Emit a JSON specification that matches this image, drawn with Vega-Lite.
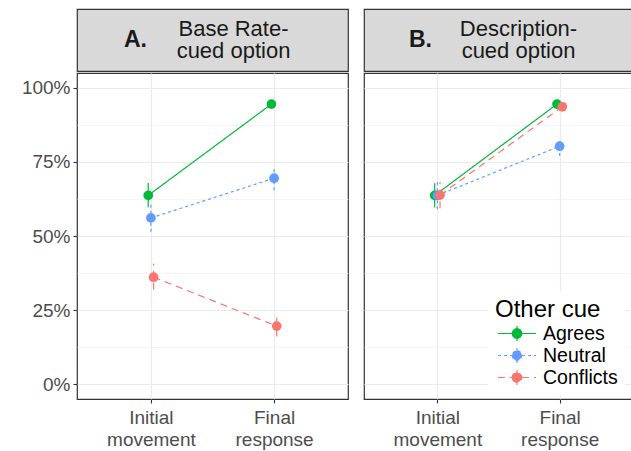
{
  "$schema": "https://vega.github.io/schema/vega-lite/v6.json",
  "background": "white",
  "padding": {"left": 20, "top": 8, "right": 0, "bottom": 0},
  "config": {"font": "Liberation Sans", "concat": {"spacing": 0}},
  "datasets": {
    "obs": [
      {"panel": "A", "stage": "Initial movement", "cue": "Agrees", "mean": 0.637, "lo": 0.597, "hi": 0.679},
      {"panel": "A", "stage": "Final response", "cue": "Agrees", "mean": 0.945, "lo": 0.933, "hi": 0.957},
      {"panel": "A", "stage": "Initial movement", "cue": "Neutral", "mean": 0.561, "lo": 0.514, "hi": 0.607},
      {"panel": "A", "stage": "Final response", "cue": "Neutral", "mean": 0.695, "lo": 0.654, "hi": 0.733},
      {"panel": "A", "stage": "Initial movement", "cue": "Conflicts", "mean": 0.361, "lo": 0.319, "hi": 0.406},
      {"panel": "A", "stage": "Final response", "cue": "Conflicts", "mean": 0.196, "lo": 0.161, "hi": 0.226},
      {"panel": "B", "stage": "Initial movement", "cue": "Agrees", "mean": 0.637, "lo": 0.596, "hi": 0.678},
      {"panel": "B", "stage": "Final response", "cue": "Agrees", "mean": 0.945, "lo": 0.933, "hi": 0.957},
      {"panel": "B", "stage": "Initial movement", "cue": "Neutral", "mean": 0.637, "lo": 0.59, "hi": 0.684},
      {"panel": "B", "stage": "Final response", "cue": "Neutral", "mean": 0.803, "lo": 0.77, "hi": 0.83},
      {"panel": "B", "stage": "Initial movement", "cue": "Conflicts", "mean": 0.638, "lo": 0.594, "hi": 0.682},
      {"panel": "B", "stage": "Final response", "cue": "Conflicts", "mean": 0.936, "lo": 0.922, "hi": 0.95}
    ],
    "strips": [
      {"panel": "A", "letter": "A.", "title": "Base Rate-\ncued option"},
      {"panel": "B", "letter": "B.", "title": "Description-\ncued option"}
    ]
  },
  "hconcat": [
    {
      "spacing": 0,
      "vconcat": [
        {
          "width": 271, "height": 62,
          "data": {"name": "strips"},
          "transform": [{"filter": "datum.panel == 'A'"}],
          "view": {"fill": "#D9D9D9", "stroke": "#333333", "strokeWidth": 1.2},
          "layer": [
            {"mark": {"type": "text", "fontWeight": "bold", "fontSize": 23, "color": "#1A1A1A", "dx": -77, "baseline": "middle"}, "encoding": {"text": {"field": "letter"}}},
            {"mark": {"type": "text", "fontSize": 22, "color": "#1A1A1A", "dx": 21, "dy": -11, "baseline": "middle", "lineBreak": "\n", "lineHeight": 22}, "encoding": {"text": {"field": "title"}}}
          ]
        },
        {
          "width": 271, "height": 326,
          "data": {"name": "obs"},
          "transform": [{"filter": "datum.panel == 'A'"}],
          "view": {"fill": "white", "stroke": "#333333", "strokeWidth": 1.2},
          "encoding": {
            "x": {"field": "stage", "type": "nominal", "sort": ["Initial movement", "Final response"], "scale": {"type": "point", "padding": 0.6},
              "axis": {"title": null, "labelAngle": 0, "labelExpr": "split(datum.label, ' ')", "labelFontSize": 19, "labelColor": "#4D4D4D", "labelLineHeight": 22, "labelPadding": 5, "tickColor": "#333333", "tickSize": 4, "tickWidth": 1.1, "domain": false, "grid": true, "gridColor": "#EBEBEB", "gridWidth": 1.2}},
            "xOffset": {"field": "cue", "type": "nominal", "sort": ["Agrees", "Neutral", "Conflicts"], "scale": {"type": "point", "range": [-4, 4]}},
            "color": {"field": "cue", "type": "nominal", "sort": ["Agrees", "Neutral", "Conflicts"], "scale": {"domain": ["Agrees", "Neutral", "Conflicts"], "range": ["#00BA38", "#619CFF", "#F8766D"]},
              "legend": {"title": "Other cue", "orient": "none", "legendX": 411, "legendY": 282, "direction": "vertical", "titleFontSize": 24, "titleFontWeight": "normal", "titleColor": "black", "titlePadding": 1, "labelFontSize": 19.5, "labelColor": "black", "fillColor": "white", "padding": 7, "symbolType": "M-2,0H2M0,-0.8V0.8M-0.5,0A0.5,0.5 0 1,0 0.5,0A0.5,0.5 0 1,0 -0.5,0", "symbolSize": 361, "symbolStrokeWidth": 1.2, "symbolOffset": 11.5, "labelOffset": 15.5, "rowPadding": 1, "symbolOpacity": 1,
                "encode": {"symbols": {"update": {"fill": {"scale": "color", "field": "value"}}}}}}
          },
          "layer": [
            {"mark": {"type": "rule", "strokeWidth": 1.2},
              "encoding": {
                "y": {"field": "lo", "type": "quantitative", "scale": {"domain": [-0.05, 1.05], "nice": false, "zero": false},
                  "axis": {"orient": "left", "values": [0.125, 0.375, 0.625, 0.875], "labels": false, "ticks": false, "domain": false, "title": null, "grid": true, "gridColor": "#F0F0F0", "gridWidth": 0.7}},
                "y2": {"field": "hi"},
                "strokeDash": {"field": "cue", "type": "nominal", "scale": {"domain": ["Agrees", "Neutral", "Conflicts"], "range": [[1, 0], [3, 3], [7, 5]]},
                  "legend": {"title": "Other cue", "orient": "none", "legendX": 411, "legendY": 282, "direction": "vertical", "titleFontSize": 24, "titleFontWeight": "normal", "titleColor": "black", "titlePadding": 1, "labelFontSize": 19.5, "labelColor": "black", "fillColor": "white", "padding": 7, "symbolType": "M-2,0H2M0,-0.8V0.8M-0.5,0A0.5,0.5 0 1,0 0.5,0A0.5,0.5 0 1,0 -0.5,0", "symbolSize": 361, "symbolStrokeWidth": 1.2, "symbolOffset": 11.5, "labelOffset": 15.5, "rowPadding": 1, "symbolOpacity": 1}}
              }},
            {"mark": {"type": "line", "strokeWidth": 1.2},
              "encoding": {
                "y": {"field": "mean", "type": "quantitative",
                  "axis": {"orient": "left", "values": [0, 0.25, 0.5, 0.75, 1], "format": ".0%", "title": null, "labelFontSize": 19, "labelColor": "#4D4D4D", "labelPadding": 3, "tickColor": "#333333", "tickSize": 4, "tickWidth": 1.1, "domain": false, "grid": true, "gridColor": "#EBEBEB", "gridWidth": 1.2}},
                "strokeDash": {"field": "cue", "type": "nominal"}
              }},
            {"mark": {"type": "point", "filled": true, "size": 95, "opacity": 1},
              "encoding": {"y": {"field": "mean", "type": "quantitative", "axis": null}}}
          ],
          "resolve": {"axis": {"y": "independent"}}
        }
      ]
    },
    {
      "spacing": 0,
      "vconcat": [
        {
          "width": 269, "height": 62,
          "data": {"name": "strips"},
          "transform": [{"filter": "datum.panel == 'B'"}],
          "view": {"fill": "#D9D9D9", "stroke": "#333333", "strokeWidth": 1.2},
          "layer": [
            {"mark": {"type": "text", "fontWeight": "bold", "fontSize": 23, "color": "#1A1A1A", "dx": -78, "baseline": "middle"}, "encoding": {"text": {"field": "letter"}}},
            {"mark": {"type": "text", "fontSize": 22, "color": "#1A1A1A", "dx": 20, "dy": -11, "baseline": "middle", "lineBreak": "\n", "lineHeight": 22}, "encoding": {"text": {"field": "title"}}}
          ]
        },
        {
          "width": 269, "height": 326,
          "data": {"name": "obs"},
          "transform": [{"filter": "datum.panel == 'B'"}],
          "view": {"fill": "white", "stroke": "#333333", "strokeWidth": 1.2},
          "encoding": {
            "x": {"field": "stage", "type": "nominal", "sort": ["Initial movement", "Final response"], "scale": {"type": "point", "padding": 0.6},
              "axis": {"title": null, "labelAngle": 0, "labelExpr": "split(datum.label, ' ')", "labelFontSize": 19, "labelColor": "#4D4D4D", "labelLineHeight": 22, "labelPadding": 5, "tickColor": "#333333", "tickSize": 4, "tickWidth": 1.1, "domain": false, "grid": true, "gridColor": "#EBEBEB", "gridWidth": 1.2}},
            "xOffset": {"field": "cue", "type": "nominal", "sort": ["Agrees", "Neutral", "Conflicts"], "scale": {"type": "point", "range": [-4, 4]}},
            "color": {"field": "cue", "type": "nominal", "sort": ["Agrees", "Neutral", "Conflicts"]}
          },
          "layer": [
            {"mark": {"type": "rule", "strokeWidth": 1.2},
              "encoding": {
                "y": {"field": "lo", "type": "quantitative", "scale": {"domain": [-0.05, 1.05], "nice": false, "zero": false},
                  "axis": {"orient": "left", "values": [0.125, 0.375, 0.625, 0.875], "labels": false, "ticks": false, "domain": false, "title": null, "grid": true, "gridColor": "#F0F0F0", "gridWidth": 0.7}},
                "y2": {"field": "hi"},
                "strokeDash": {"field": "cue", "type": "nominal"}
              }},
            {"mark": {"type": "line", "strokeWidth": 1.2},
              "encoding": {
                "y": {"field": "mean", "type": "quantitative",
                  "axis": {"orient": "left", "values": [0, 0.25, 0.5, 0.75, 1], "labels": false, "ticks": false, "domain": false, "title": null, "grid": true, "gridColor": "#EBEBEB", "gridWidth": 1.2}},
                "strokeDash": {"field": "cue", "type": "nominal"}
              }},
            {"mark": {"type": "point", "filled": true, "size": 95, "opacity": 1},
              "encoding": {"y": {"field": "mean", "type": "quantitative", "axis": null}}}
          ],
          "resolve": {"axis": {"y": "independent"}}
        }
      ]
    }
  ],
  "spacing": 14
}
